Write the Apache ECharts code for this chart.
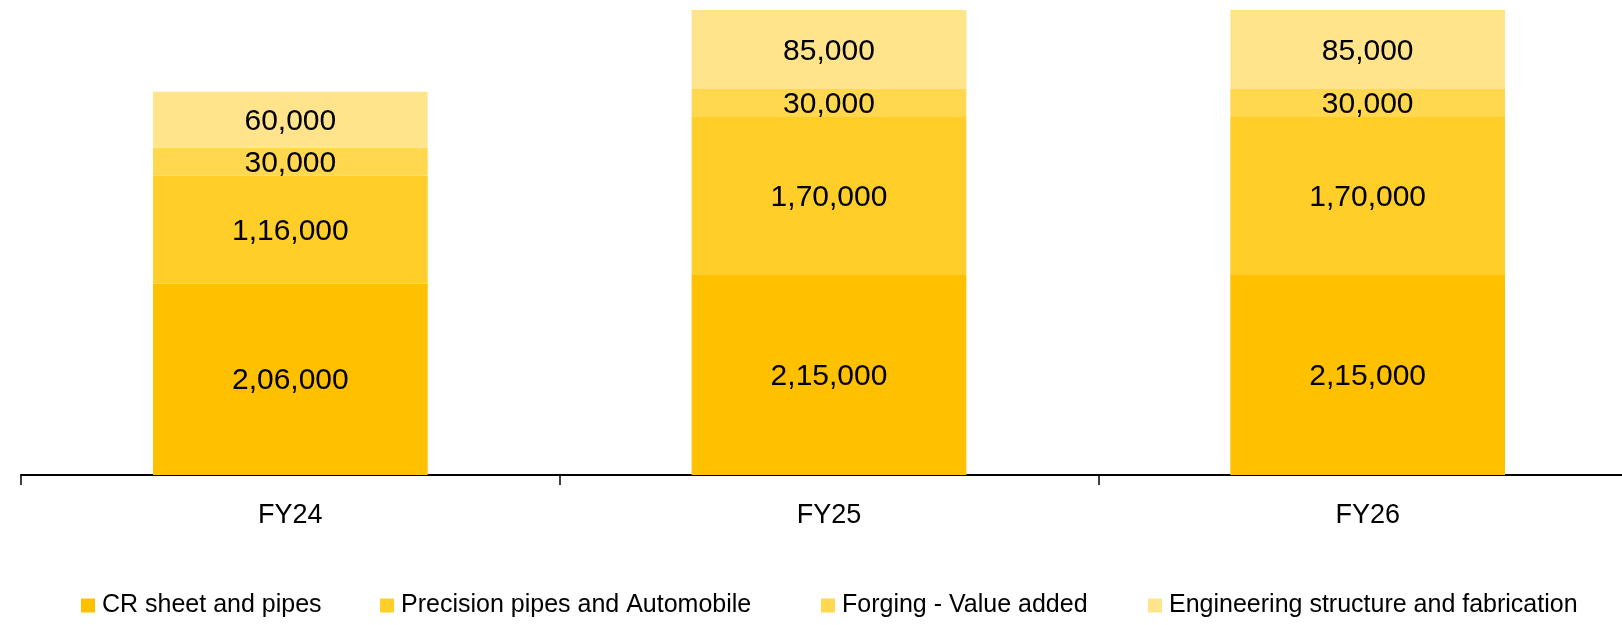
<!DOCTYPE html>
<html><head><meta charset="utf-8">
<script src="https://cdn.jsdelivr.net/npm/echarts@6/dist/echarts.min.js"></script>
<style>html,body{margin:0;padding:0;background:#fff}#c{width:1622px;height:625px}</style>
</head><body><div id="c"></div>
<script>
const categories = ['FY24', 'FY25', 'FY26'];
const seriesNames = ['CR sheet and pipes', 'Precision pipes and Automobile', 'Forging - Value added', 'Engineering structure and fabrication'];
const crSheet = [206000, 215000, 215000];
const precision = [116000, 170000, 170000];
const forging = [30000, 30000, 30000];
const engineering = [60000, 85000, 85000];
const colors = ['#FFC000', '#FFCE28', '#FFD84F', '#FFE48C'];

function fmtIN(v) {
  const s = String(Math.round(v));
  if (s.length <= 3) return s;
  const last3 = s.slice(-3);
  let rest = s.slice(0, -3);
  rest = rest.replace(/\B(?=(\d{2})+(?!\d))/g, ',');
  return rest + ',' + last3;
}

const FONT = '"Liberation Sans", Arial, sans-serif';
const data = [crSheet, precision, forging, engineering];
const legendLeft = [81, 380, 821, 1148];
const chart = echarts.init(document.getElementById('c'), null, {renderer: 'canvas'});
chart.setOption({
  animation: false,
  color: colors,
  grid: {left: 21, top: 10, right: -15, bottom: 150, containLabel: false, outerBoundsMode: 'none'},
  legend: seriesNames.map((n, i) => ({
    top: 592, left: legendLeft[i],
    itemWidth: 14, itemHeight: 14, itemGap: 0, icon: 'rect', padding: 0,
    textStyle: {fontSize: 25, lineHeight: 27, color: '#000', fontFamily: FONT, padding: [0, 0, 0, 2]},
    data: [n]
  })),
  xAxis: {
    type: 'category', data: categories,
    axisLine: {lineStyle: {color: '#000', width: 2}},
    axisTick: {show: true, length: 10, lineStyle: {color: '#000', width: 1.5}},
    axisLabel: {fontSize: 27, color: '#000', margin: 27, fontFamily: FONT}
  },
  yAxis: {type: 'value', min: 0, max: 500000, show: false, splitLine: {show: false}},
  series: seriesNames.map((n, i) => ({
    name: n, type: 'bar', stack: 'total', barWidth: '51%',
    data: data[i],
    itemStyle: {color: colors[i]},
    label: {show: true, position: 'inside', offset: [0, 2], fontSize: 30, color: '#000', fontFamily: FONT,
      formatter: p => fmtIN(p.value)}
  }))
});
</script></body></html>
